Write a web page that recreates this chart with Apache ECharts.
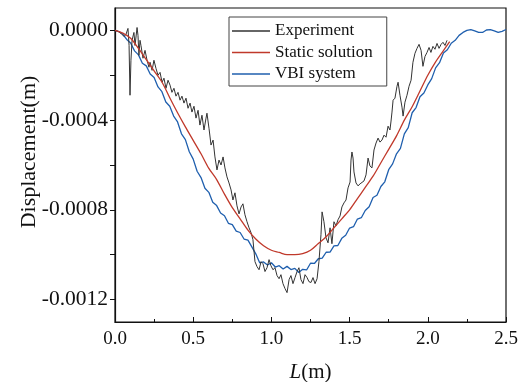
<!DOCTYPE html>
<html>
<head>
<meta charset="utf-8">
<script src="https://cdn.jsdelivr.net/npm/echarts@6/dist/echarts.min.js"></script>
<style>html,body{margin:0;padding:0;background:#fff;}#c{width:524px;height:382px;}</style>
</head>
<body>
<div id="c"></div>
<script>
// ---- data ----
var seriesNames = ['Experiment', 'Static solution', 'VBI system'];
var xTicks = [0, 0.5, 1.0, 1.5, 2.0, 2.5];
var yLabelTicks = [-0.0012, -0.0008, -0.0004, 0];
var yAllTicks = [-0.0012, -0.001, -0.0008, -0.0006, -0.0004, -0.0002, 0];

var expL = [0.000,0.019,0.038,0.058,0.070,0.083,0.090,0.096,0.102,0.109,0.121,0.128,0.141,0.147,0.153,0.160,0.166,0.179,0.192,0.205,0.217,0.224,0.237,0.249,0.262,0.275,0.288,0.301,0.313,0.326,0.339,0.352,0.364,0.377,0.390,0.403,0.416,0.428,0.441,0.454,0.467,0.480,0.492,0.505,0.518,0.531,0.543,0.556,0.569,0.582,0.588,0.601,0.614,0.627,0.639,0.652,0.665,0.678,0.691,0.703,0.716,0.729,0.742,0.754,0.767,0.780,0.793,0.806,0.818,0.831,0.844,0.857,0.870,0.882,0.895,0.908,0.921,0.934,0.946,0.959,0.972,0.985,0.997,1.010,1.023,1.036,1.049,1.061,1.074,1.087,1.100,1.113,1.125,1.138,1.151,1.164,1.176,1.189,1.202,1.215,1.228,1.240,1.253,1.266,1.279,1.292,1.304,1.317,1.324,1.336,1.349,1.362,1.375,1.387,1.400,1.413,1.426,1.439,1.451,1.464,1.477,1.490,1.503,1.509,1.515,1.522,1.528,1.541,1.554,1.567,1.579,1.592,1.605,1.618,1.630,1.643,1.656,1.669,1.682,1.694,1.707,1.720,1.733,1.746,1.758,1.765,1.771,1.778,1.790,1.803,1.810,1.822,1.835,1.842,1.854,1.867,1.880,1.893,1.905,1.918,1.931,1.944,1.957,1.969,1.982,1.995,2.008,2.020,2.033,2.046,2.059,2.072,2.085,2.097,2.110,2.123];
var expD = [0,-0.000004,-0.000013,-0.000027,-0.000018,0.000009,-0.000067,-0.000289,-0.000133,-0.000044,-0.000009,-0.000067,0.000013,-0.000022,-0.000111,-0.000044,-0.000067,-0.000124,-0.000089,-0.000133,-0.000164,-0.000142,-0.000178,-0.000133,-0.000169,-0.0002,-0.000187,-0.000231,-0.000213,-0.000258,-0.000222,-0.000244,-0.000276,-0.000258,-0.000293,-0.000276,-0.000311,-0.000293,-0.000324,-0.000302,-0.000347,-0.000324,-0.000364,-0.000338,-0.000391,-0.000356,-0.000422,-0.000378,-0.000444,-0.000391,-0.000369,-0.000436,-0.000511,-0.000489,-0.000564,-0.000622,-0.000578,-0.0006,-0.000564,-0.000613,-0.000653,-0.00068,-0.000711,-0.000756,-0.000724,-0.000782,-0.000818,-0.000787,-0.000773,-0.000822,-0.000853,-0.00088,-0.000902,-0.000933,-0.001031,-0.001053,-0.001067,-0.001031,-0.00104,-0.001075,-0.001058,-0.001022,-0.001049,-0.001067,-0.001058,-0.001093,-0.001107,-0.001089,-0.001129,-0.001151,-0.001169,-0.001111,-0.001093,-0.001129,-0.001102,-0.001075,-0.001058,-0.001111,-0.001129,-0.001089,-0.001102,-0.00112,-0.001124,-0.001102,-0.001129,-0.001107,-0.001031,-0.000911,-0.000809,-0.000853,-0.000924,-0.000947,-0.00088,-0.000951,-0.000853,-0.000871,-0.000844,-0.000827,-0.000787,-0.000769,-0.000756,-0.000702,-0.000676,-0.000578,-0.000542,-0.000569,-0.000631,-0.00068,-0.000693,-0.000684,-0.000689,-0.000671,-0.000644,-0.000569,-0.000604,-0.000613,-0.000533,-0.000502,-0.00048,-0.000498,-0.000489,-0.000467,-0.000476,-0.000427,-0.000444,-0.000404,-0.000364,-0.000311,-0.000302,-0.000249,-0.000231,-0.000289,-0.000342,-0.000382,-0.00032,-0.000289,-0.000249,-0.000222,-0.000142,-0.000102,-0.00008,-0.000062,-0.000089,-0.00016,-0.000116,-0.000098,-0.000076,-0.000098,-0.000071,-0.000084,-0.000058,-0.00008,-0.000062,-0.000053,-0.000067,-0.000044];

var staticL = [0,0.05,0.10,0.15,0.20,0.25,0.30,0.35,0.40,0.45,0.50,0.55,0.60,0.65,0.70,0.75,0.80,0.85,0.90,0.95,1.00,1.05,1.10,1.15,1.20,1.25,1.30,1.35,1.40,1.45,1.50,1.55,1.60,1.65,1.70,1.75,1.80,1.85,1.90,1.95,2.00,2.05,2.10,2.14];
var staticD = [0,-0.000012,-0.000035,-0.00008,-0.00013,-0.00018,-0.00023,-0.0003,-0.000367,-0.00043,-0.00049,-0.00055,-0.000615,-0.000665,-0.00073,-0.00079,-0.00084,-0.00089,-0.00093,-0.00096,-0.00098,-0.00099,-0.001,-0.001,-0.000995,-0.00098,-0.00095,-0.00092,-0.00088,-0.00084,-0.0008,-0.00075,-0.0007,-0.00065,-0.00059,-0.00053,-0.00047,-0.0004,-0.00034,-0.00027,-0.0002,-0.00014,-0.00009,-0.00005];

var vbiL = [0,0.025,0.05,0.075,0.1,0.125,0.15,0.175,0.2,0.225,0.25,0.275,0.3,0.325,0.35,0.375,0.4,0.425,0.45,0.475,0.5,0.525,0.55,0.575,0.6,0.625,0.65,0.675,0.7,0.725,0.75,0.775,0.8,0.825,0.85,0.875,0.9,0.925,0.95,0.975,1.0,1.025,1.05,1.075,1.1,1.125,1.15,1.175,1.2,1.225,1.25,1.275,1.3,1.325,1.35,1.375,1.4,1.425,1.45,1.475,1.5,1.525,1.55,1.575,1.6,1.625,1.65,1.675,1.7,1.725,1.75,1.775,1.8,1.825,1.85,1.875,1.9,1.925,1.95,1.975,2.0,2.025,2.05,2.075,2.1,2.125,2.15,2.175,2.2,2.225,2.25,2.275,2.3,2.325,2.35,2.375,2.4,2.425,2.45,2.475,2.5];
var vbiD = [0,-0.000005,-0.000017,-0.00004,-0.000056,-0.000091,-0.000109,-0.000146,-0.000158,-0.000194,-0.00021,-0.000252,-0.000273,-0.000319,-0.000338,-0.000382,-0.000408,-0.000461,-0.000487,-0.000541,-0.000574,-0.000628,-0.000656,-0.000704,-0.000722,-0.000766,-0.000781,-0.000814,-0.000826,-0.00086,-0.000866,-0.000895,-0.000901,-0.00093,-0.000935,-0.000965,-0.000996,-0.001036,-0.001032,-0.001046,-0.001036,-0.001055,-0.001049,-0.001064,-0.001052,-0.001066,-0.001061,-0.001079,-0.001065,-0.001068,-0.001038,-0.001039,-0.001018,-0.001015,-0.000989,-0.000988,-0.000961,-0.000959,-0.000927,-0.000913,-0.000881,-0.000875,-0.000841,-0.000835,-0.000803,-0.000786,-0.000745,-0.000735,-0.000696,-0.000675,-0.000621,-0.000595,-0.00055,-0.000526,-0.000461,-0.000433,-0.000367,-0.000344,-0.000296,-0.000279,-0.000243,-0.000215,-0.000167,-0.000144,-0.000101,-0.000086,-0.000057,-0.000044,-0.000022,-0.000009,0,0.000004,-0.000002,-0.000009,-0.000009,0.000002,0.000004,-0.000002,-0.000009,-0.000004,0.000004];

function zip(a, b) {
  var n = Math.min(a.length, b.length), out = [];
  for (var i = 0; i < n; i++) out.push([a[i], b[i]]);
  return out;
}

var FONT = '"Liberation Serif", "Times New Roman", serif';
var chart = echarts.init(document.getElementById('c'), null, {renderer: 'canvas'});
chart.setOption({
  backgroundColor: '#fff',
  animation: false,
  grid: {left: 115, right: 18, top: 8, bottom: 60, show: true, borderColor: '#111', borderWidth: 1.2,
    backgroundColor: 'transparent', containLabel: false, outerBoundsMode: 'none'},
  legend: {
    data: seriesNames,
    orient: 'vertical',
    left: 229, top: 17,
    icon: 'rect',
    itemWidth: 38, itemHeight: 1.3, itemGap: 4.5,
    padding: [5.5, 14, 3.5, 3],
    backgroundColor: '#fff',
    borderColor: '#444', borderWidth: 1, borderRadius: 0,
    textStyle: {fontFamily: FONT, fontSize: 17, color: '#111', lineHeight: 17}
  },
  xAxis: {
    type: 'value', min: 0, max: 2.5, interval: 0.5,
    axisLine: {show: true, onZero: false, lineStyle: {color: '#111', width: 1.2}},
    axisTick: {show: true, inside: true, length: 5, lineStyle: {color: '#111'}},
    minorTick: {show: true, splitNumber: 2, length: 3, lineStyle: {color: '#111'}},
    splitLine: {show: false},
    axisLabel: {margin: 8, fontFamily: FONT, fontSize: 19, color: '#111', formatter: function (v) { return v.toFixed(1); }},
    name: '{i|L}(m)', nameLocation: 'middle', nameGap: 40,
    nameTextStyle: {fontFamily: FONT, fontSize: 21, color: '#111', rich: {i: {fontFamily: FONT, fontSize: 21, fontStyle: 'italic', color: '#111'}}}
  },
  yAxis: [{
    type: 'value', min: -0.0013, max: 0.0001,
    axisLine: {show: true, onZero: false, lineStyle: {color: '#111', width: 1.2}},
    axisTick: {show: true, inside: false, length: 5, customValues: yAllTicks, lineStyle: {color: '#111'}},
    splitLine: {show: false},
    axisLabel: {margin: 7, fontFamily: FONT, fontSize: 21.5, color: '#111', customValues: yLabelTicks,
      formatter: function (v) { return (Math.abs(v) < 1e-12 ? 0 : v).toFixed(4); }}
  }],
  graphic: [{
    type: 'text', x: 29, y: 152, rotation: Math.PI / 2,
    style: {text: 'Displacement(m)', font: '22px ' + FONT, fill: '#111', align: 'center', verticalAlign: 'middle'}
  }],
  series: [
    {name: seriesNames[0], type: 'line', data: zip(expL, expD), symbol: 'none', showSymbol: false, z: 3,
      lineStyle: {color: '#333', width: 1}, itemStyle: {color: '#333'}},
    {name: seriesNames[1], type: 'line', data: zip(staticL, staticD), symbol: 'none', showSymbol: false, smooth: 0.3, z: 4,
      lineStyle: {color: '#c0392b', width: 1.3}, itemStyle: {color: '#c0392b'}},
    {name: seriesNames[2], type: 'line', data: zip(vbiL, vbiD), symbol: 'none', showSymbol: false, z: 2,
      lineStyle: {color: '#1f5fae', width: 1.3}, itemStyle: {color: '#1f5fae'}}
  ]
});
</script>
</body>
</html>
